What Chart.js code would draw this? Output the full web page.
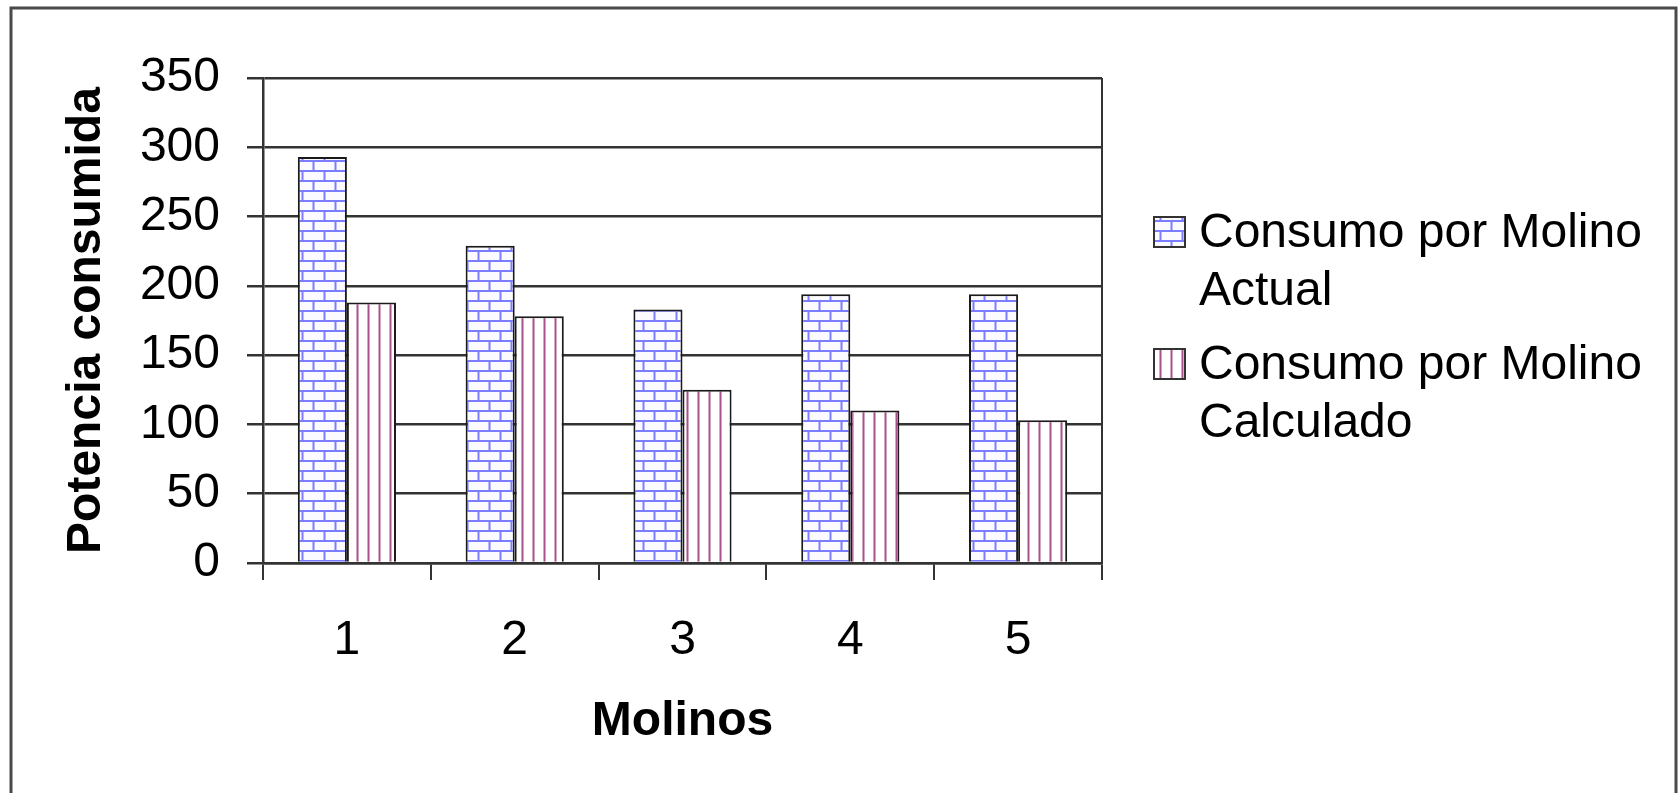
<!DOCTYPE html>
<html>
<head>
<meta charset="utf-8">
<script src="https://cdn.jsdelivr.net/npm/chart.js@4.4.1/dist/chart.umd.min.js"></script>
<style>
  html, body { margin: 0; padding: 0; background: #fff; }
  #wrap { position: relative; width: 1679px; height: 793px; }
</style>
</head>
<body>
<div id="wrap"><canvas id="c" width="1679" height="793"></canvas></div>
<script>
// Molinos (mills) and their power consumption
const categories = ['1', '2', '3', '4', '5'];
const consumoActual = [293, 229, 183, 194, 194];
const consumoCalculado = [188, 178, 125, 110, 103];
const seriesNames = [
  ['Consumo por Molino', 'Actual'],
  ['Consumo por Molino', 'Calculado']
];
const yTicks = [0, 50, 100, 150, 200, 250, 300, 350];

const FONT = "'Liberation Sans', Arial, sans-serif";

// Brick fill pattern (blue mortar lines on white)
function brickPattern() {
  const t = document.createElement('canvas');
  t.width = 22; t.height = 20;
  const g = t.getContext('2d');
  g.fillStyle = '#fbfbff';
  g.fillRect(0, 0, 22, 20);
  g.strokeStyle = '#7c7cff';
  g.lineWidth = 2;
  g.beginPath();
  g.moveTo(0, 1); g.lineTo(22, 1);
  g.moveTo(0, 11); g.lineTo(22, 11);
  g.moveTo(5.5, 0); g.lineTo(5.5, 10);
  g.moveTo(16.5, 10); g.lineTo(16.5, 20);
  g.stroke();
  return g.createPattern(t, 'repeat');
}

// Vertical stripe fill pattern (plum lines on white)
function stripePattern() {
  const t = document.createElement('canvas');
  t.width = 11; t.height = 10;
  const g = t.getContext('2d');
  g.fillStyle = '#ffffff';
  g.fillRect(0, 0, 11, 10);
  g.strokeStyle = '#a8508a';
  g.lineWidth = 2;
  g.beginPath();
  g.moveTo(5.5, 0); g.lineTo(5.5, 10);
  g.stroke();
  return g.createPattern(t, 'repeat');
}

const fills = [brickPattern(), stripePattern()];

// Outer frame of the chart object
const framePlugin = {
  id: 'frame',
  beforeDraw(chart) {
    const ctx = chart.ctx;
    ctx.save();
    ctx.fillStyle = '#fff';
    ctx.fillRect(0, 0, chart.width, chart.height);
    ctx.strokeStyle = '#4a4a4a';
    ctx.lineWidth = 3;
    ctx.beginPath();
    ctx.moveTo(11, chart.height + 5);
    ctx.lineTo(11, 8);
    ctx.lineTo(1676, 8);
    ctx.lineTo(1676, chart.height + 5);
    ctx.stroke();
    ctx.restore();
  }
};

// Right edge of the plot area
const plotBorderPlugin = {
  id: 'plotBorder',
  beforeDatasetsDraw(chart) {
    const { ctx, chartArea } = chart;
    ctx.save();
    ctx.strokeStyle = '#333';
    ctx.lineWidth = 2;
    ctx.beginPath();
    ctx.moveTo(chartArea.right, chartArea.top);
    ctx.lineTo(chartArea.right, chartArea.bottom);
    ctx.stroke();
    ctx.restore();
  }
};

// Legend with two-line entries on the right side
const sideLegendPlugin = {
  id: 'sideLegend',
  afterDraw(chart) {
    const ctx = chart.ctx;
    const x0 = 1154, textX = 1199;
    const entryTop = [232, 364];
    const lineGap = 58;
    ctx.save();
    chart.data.datasets.forEach((ds, i) => {
      const cy = entryTop[i];
      ctx.fillStyle = ds.backgroundColor;
      ctx.fillRect(x0, cy - 15, 31, 30);
      ctx.strokeStyle = '#333';
      ctx.lineWidth = 2;
      ctx.strokeRect(x0, cy - 15, 31, 30);
      ctx.fillStyle = '#000';
      ctx.font = '48px ' + FONT;
      ctx.textAlign = 'left';
      ctx.textBaseline = 'middle';
      seriesNames[i].forEach((line, j) => {
        ctx.fillText(line, textX, cy + 2 + j * lineGap);
      });
    });
    ctx.restore();
  }
};

new Chart(document.getElementById('c'), {
  type: 'bar',
  data: {
    labels: categories,
    datasets: [
      {
        label: seriesNames[0].join(' '),
        data: consumoActual,
        backgroundColor: fills[0],
        borderColor: '#1a1a1a',
        borderWidth: 2,
        borderSkipped: 'bottom'
      },
      {
        label: seriesNames[1].join(' '),
        data: consumoCalculado,
        backgroundColor: fills[1],
        borderColor: '#1a1a1a',
        borderWidth: 2,
        borderSkipped: 'bottom'
      }
    ]
  },
  options: {
    responsive: false,
    animation: false,
    devicePixelRatio: 1,
    layout: { padding: { left: 40, top: 78, right: 577, bottom: 0 } },
    datasets: { bar: { categoryPercentage: 0.585, barPercentage: 1.0 } },
    plugins: {
      legend: { display: false },
      tooltip: { enabled: false },
      title: { display: false }
    },
    scales: {
      x: {
        offset: true,
        grid: {
          offset: true,
          drawOnChartArea: false,
          drawTicks: true,
          tickLength: 17,
          color: '#333',
          lineWidth: 2
        },
        border: { display: true, color: '#333', width: 2.5 },
        ticks: {
          color: '#000',
          padding: 32,
          font: { family: FONT, size: 48 }
        },
        title: {
          display: true,
          text: 'Molinos',
          color: '#000',
          font: { family: FONT, size: 48, weight: 'bold' },
          padding: { top: 0, bottom: 42 }
        },
        afterFit(scale) { scale.height = 230; }
      },
      y: {
        min: 0,
        max: 350,
        afterBuildTicks(scale) { scale.ticks = yTicks.map(v => ({ value: v })); },
        grid: {
          drawTicks: true,
          tickLength: 16,
          color: '#333',
          lineWidth: 2.5
        },
        border: { display: true, color: '#333', width: 2.5 },
        ticks: {
          color: '#000',
          padding: 27,
          font: { family: FONT, size: 48 }
        },
        title: {
          display: true,
          text: 'Potencia consumida',
          color: '#000',
          font: { family: FONT, size: 48, weight: 'bold' },
          padding: { top: 18, bottom: 0 }
        },
        afterFit(scale) { scale.width = 223; }
      }
    }
  },
  plugins: [framePlugin, plotBorderPlugin, sideLegendPlugin]
});
</script>
</body>
</html>
